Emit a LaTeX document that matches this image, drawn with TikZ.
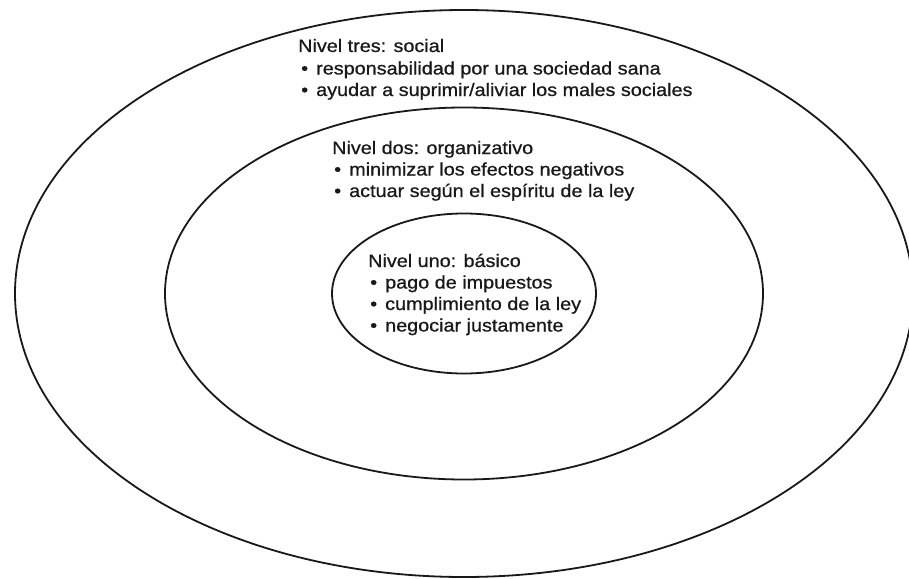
\documentclass[tikz,border=0pt]{standalone}
\usepackage{fontspec}
\setmainfont{Liberation Sans}[FakeStretch=1.1,FakeBold=0.8]
\begin{document}
\begin{tikzpicture}[x=1pt,y=-1pt,
  ring/.style={draw=black!90,line width=1.8pt},
  txt/.style={anchor=base west,inner sep=0pt,font=\fontsize{18}{21}\selectfont,text=black!90},
  bul/.style={txt}]
\useasboundingbox (0,0) rectangle (909,578);
\coordinate (c) at (464,293.5);
\draw[ring] (c) ellipse [x radius=449, y radius=283.5];
\draw[ring] (c) ellipse [x radius=299, y radius=186];
\draw[ring] (c) ellipse [x radius=132, y radius=80];
\newcommand{\bl}{\makebox[15pt][l]{\textbullet}}
% level three
\node[txt] (t3) at (298,52) {Nivel tres: social};
\node[bul] (t3a) at (301,74.5) {\bl responsabilidad por una sociedad sana};
\node[bul] (t3b) at (301,96) {\bl ayudar a suprimir/aliviar los males sociales};
% level two
\node[txt] (t2) at (332,154) {Nivel dos: organizativo};
\node[bul] (t2a) at (334,175.5) {\bl minimizar los efectos negativos};
\node[bul] (t2b) at (334,197) {\bl actuar según el espíritu de la ley};
% level one
\node[txt] (t1) at (368,267) {Nivel uno: básico};
\node[bul] (t1a) at (370,288.5) {\bl pago de impuestos};
\node[bul] (t1b) at (370,310) {\bl cumplimiento de la ley};
\node[bul] (t1c) at (370,331.5) {\bl negociar justamente};
\end{tikzpicture}
\end{document}
